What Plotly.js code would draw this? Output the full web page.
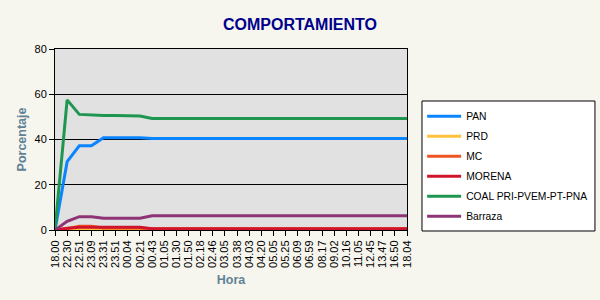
<!DOCTYPE html>
<html>
<head>
<meta charset="utf-8">
<script src="https://cdn.plot.ly/plotly-3.0.1.min.js"></script>
<style>
  html, body { margin: 0; padding: 0; background: #F6F5EE; }
  #chart { width: 600px; height: 300px; }
</style>
</head>
<body>
<div id="chart"></div>
<script>
// Hour labels along the x axis
const horas = ["18.00", "22.30", "22.51", "23.09", "23.31", "23.51", "00.04", "00.21", "00.43", "01.05",
  "01.30", "01.50", "02.18", "02.46", "03.05", "03.38", "04.03", "04.20", "05.05", "05.25",
  "06.09", "06.59", "08.17", "09.02", "10.16", "11.05", "12.45", "13.47", "16.50", "18.04"];

// Percentage per party at each cut
const pan = [0, 30.2, 37.2, 37.2, 40.8, 40.8, 40.8, 40.8, 40.4, 40.4,
  40.4, 40.4, 40.4, 40.4, 40.4, 40.4, 40.4, 40.4, 40.4, 40.4,
  40.4, 40.4, 40.4, 40.4, 40.4, 40.4, 40.4, 40.4, 40.4, 40.4];
const prd = [0, 0.3, 0.3, 0.3, 0.3, 0.3, 0.3, 0.3, 0.3, 0.2,
  0.2, 0.2, 0.2, 0.2, 0.2, 0.2, 0.2, 0.2, 0.2, 0.2,
  0.2, 0.2, 0.2, 0.2, 0.2, 0.2, 0.2, 0.2, 0.2, 0.2];
const mc = [0, 0.6, 1.7, 1.7, 0.9, 0.9, 0.9, 0.9, 0.5, 0.5,
  0.5, 0.5, 0.5, 0.5, 0.5, 0.5, 0.5, 0.5, 0.5, 0.5,
  0.5, 0.5, 0.5, 0.5, 0.5, 0.5, 0.5, 0.5, 0.5, 0.5];
const morena = [0, 0.8, 1.2, 1.2, 1.2, 1.2, 1.2, 1.2, 0.6, 0.6,
  0.6, 0.6, 0.6, 0.6, 0.6, 0.6, 0.6, 0.6, 0.6, 0.6,
  0.6, 0.6, 0.6, 0.6, 0.6, 0.6, 0.6, 0.6, 0.6, 0.6];
const coal = [0, 57.5, 51.1, 50.8, 50.6, 50.6, 50.5, 50.4, 49.3, 49.3,
  49.3, 49.3, 49.3, 49.3, 49.3, 49.3, 49.3, 49.3, 49.3, 49.3,
  49.3, 49.3, 49.3, 49.3, 49.3, 49.3, 49.3, 49.3, 49.3, 49.3];
const barraza = [0, 3.8, 5.9, 5.9, 5.2, 5.1, 5.1, 5.2, 6.3, 6.3,
  6.3, 6.3, 6.3, 6.3, 6.3, 6.3, 6.3, 6.3, 6.3, 6.3,
  6.3, 6.3, 6.3, 6.3, 6.3, 6.3, 6.3, 6.3, 6.3, 6.3];

const nombres = ["PAN", "PRD", "MC", "MORENA", "COAL PRI-PVEM-PT-PNA", "Barraza"];
const series = [pan, prd, mc, morena, coal, barraza];
const colores = ["#0A84FF", "#FFC23A", "#EE5522", "#D0142C", "#1E9650", "#8E3476"];

const traces = series.map((vals, i) => ({
  type: "scatter",
  mode: "lines",
  name: nombres[i],
  legendgroup: "g" + i,
  x: horas,
  y: vals,
  line: { color: colores[i], width: 3 },
  hoverinfo: "skip"
}));

const font = "Liberation Sans, Arial, sans-serif";
const tituloEje = "#5F8296";

const layout = {
  width: 600,
  height: 300,
  paper_bgcolor: "#F6F5EE",
  plot_bgcolor: "#E1E1E1",
  margin: { l: 55, r: 193, t: 49, b: 70, pad: 0, autoexpand: false },
  font: { family: font, size: 11, color: "#000000" },
  title: {
    text: "<b>COMPORTAMIENTO</b>",
    font: { family: font, size: 16, color: "#00008C" },
    x: 0.5, xanchor: "center", xref: "container",
    y: 20, yref: "container", yanchor: "middle"
  },
  showlegend: true,
  legend: {
    x: 1.043, xanchor: "left",
    y: 0.709, yanchor: "top",
    bgcolor: "rgba(0,0,0,0)",
    borderwidth: 0,
    font: { family: font, size: 10.3, color: "#000000" },
    tracegroupgap: 1,
    itemwidth: 34
  },
  // white framed box behind the legend entries
  shapes: [{
    type: "rect", xref: "paper", yref: "paper",
    x0: 1.0426, x1: 1.534, y0: -0.0055, y1: 0.7127,
    fillcolor: "#FFFFFF",
    line: { color: "#000000", width: 1 },
    layer: "above"
  }],
  xaxis: {
    type: "category",
    range: [0, horas.length - 1],
    tickmode: "array",
    tickvals: horas,
    ticktext: horas,
    tickangle: -90,
    ticks: "outside",
    ticklen: 5,
    tickcolor: "#000000",
    tickfont: { family: font, size: 11, color: "#000000" },
    showgrid: false,
    showline: true,
    linecolor: "#000000",
    linewidth: 1,
    mirror: true,
    zeroline: false,
    fixedrange: true,
    title: {
      text: "<b>Hora</b>",
      font: { family: font, size: 12.5, color: tituloEje },
      standoff: 8
    }
  },
  yaxis: {
    range: [0, 80],
    dtick: 20,
    ticks: "outside",
    ticklen: 5,
    tickcolor: "#000000",
    tickfont: { family: font, size: 11, color: "#000000" },
    showgrid: true,
    gridcolor: "#000000",
    gridwidth: 1,
    showline: true,
    linecolor: "#000000",
    linewidth: 1,
    mirror: true,
    zeroline: false,
    fixedrange: true,
    title: {
      text: "<b>Porcentaje</b>",
      font: { family: font, size: 12.5, color: tituloEje },
      standoff: 5
    }
  }
};

Plotly.newPlot("chart", traces, layout, { displayModeBar: false, staticPlot: true });
</script>
</body>
</html>
